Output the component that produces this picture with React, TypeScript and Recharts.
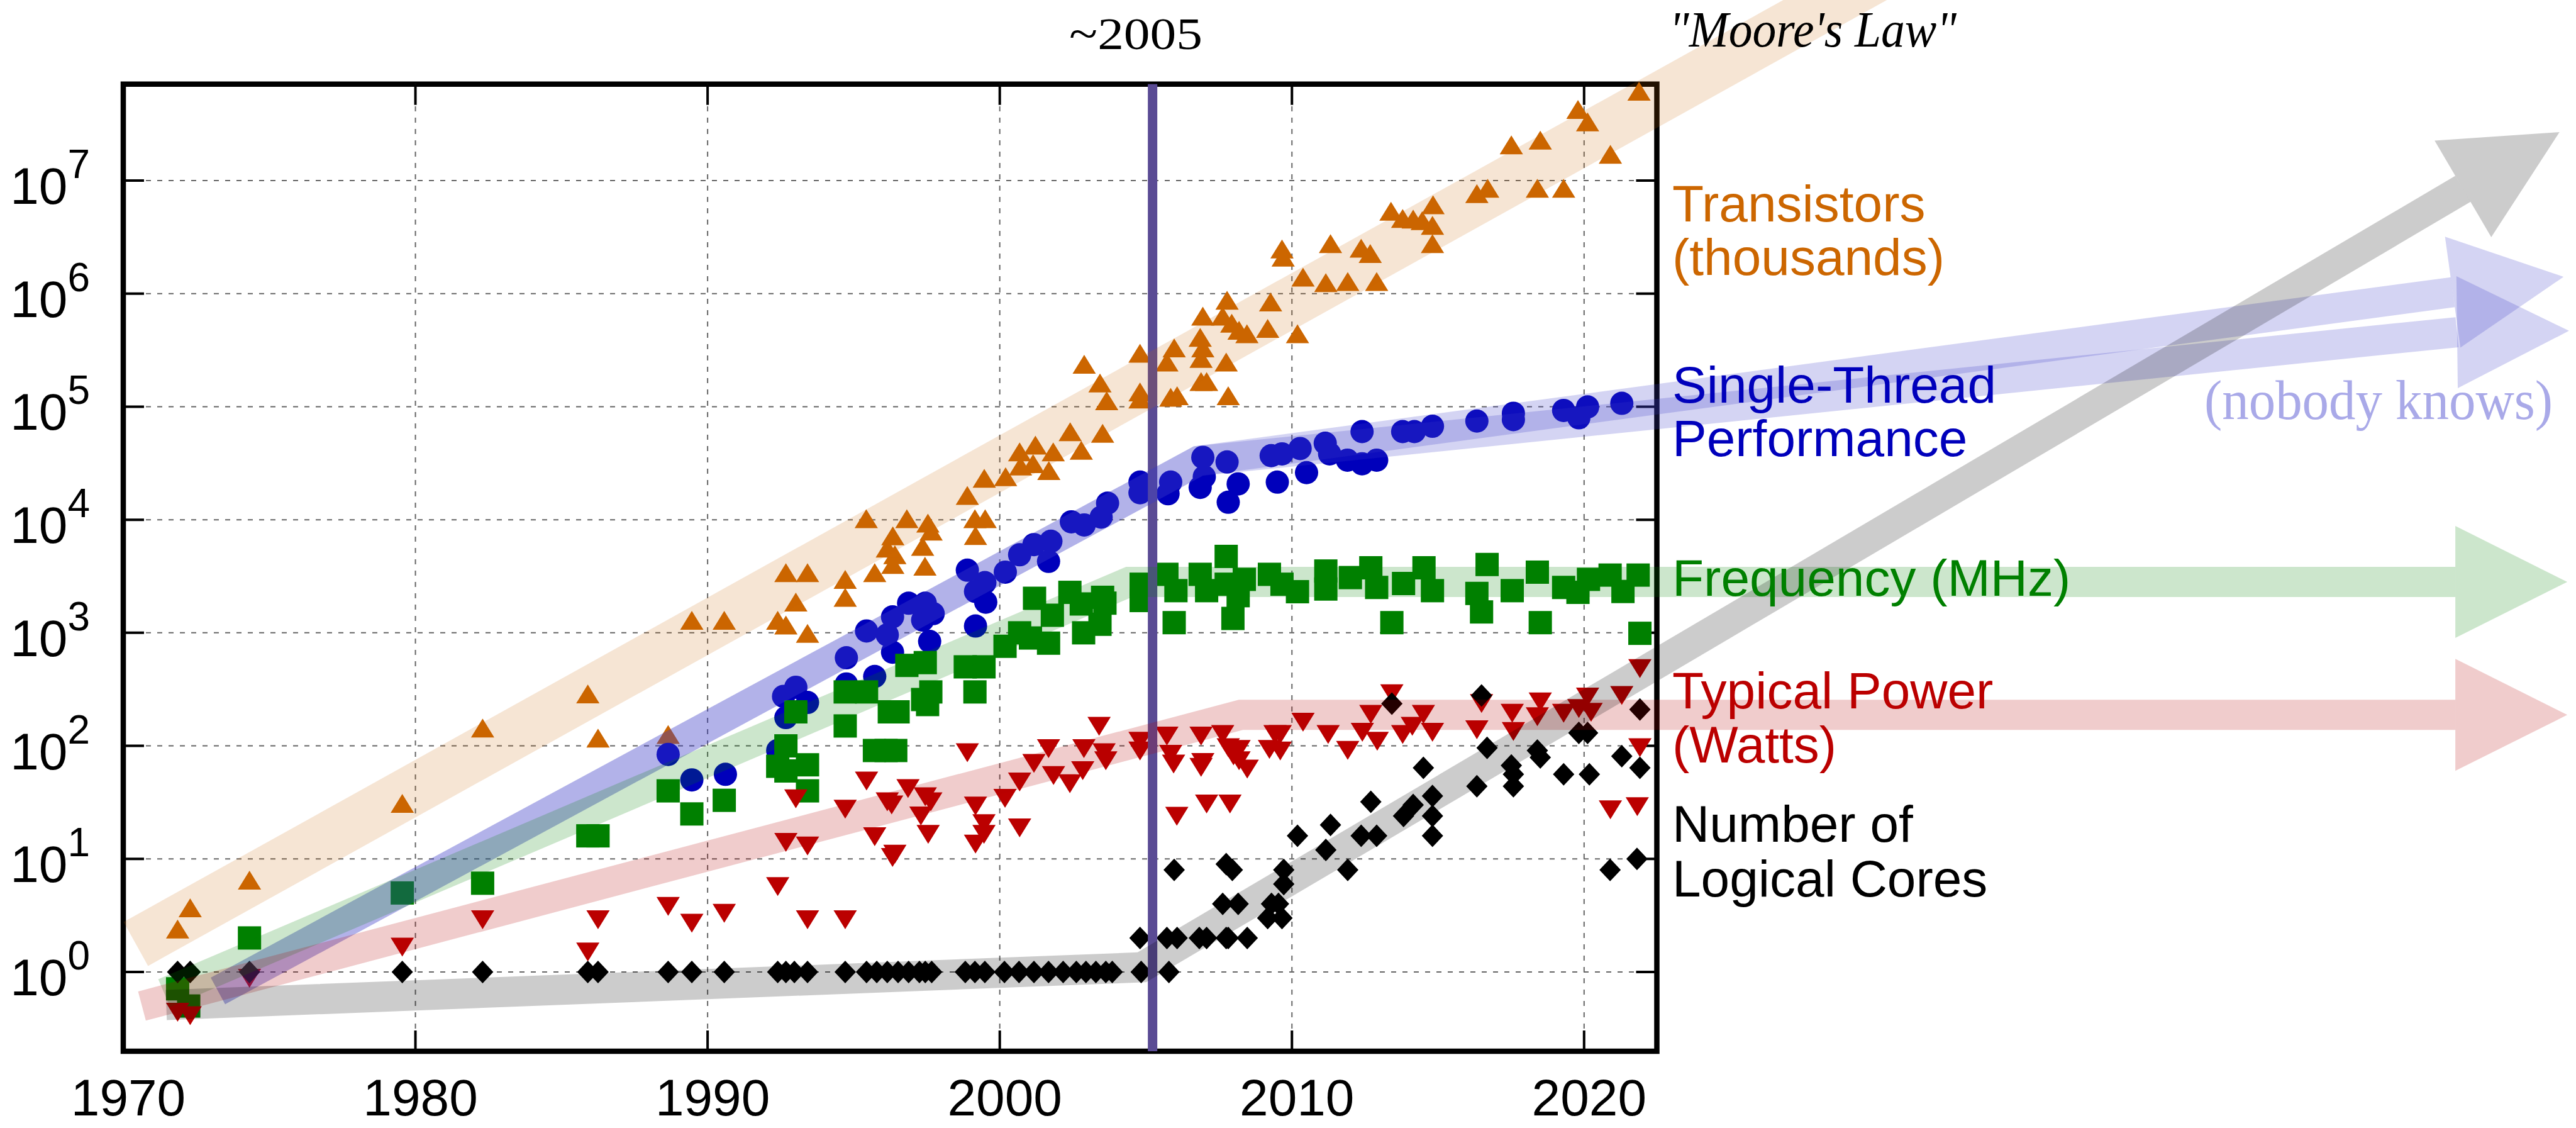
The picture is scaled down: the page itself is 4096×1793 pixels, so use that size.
import React from "react";
import { ComposedChart, XAxis, YAxis, Scatter, Line, ReferenceLine, ReferenceArea } from "recharts";

// [year, value]
const TRANSISTORS: [number, number][] = [
  [1971.86, 2.4], [1972.29, 3.7], [1974.32, 6.5], [1979.55, 31], [1982.3, 144], [1985.9, 288], [1986.25, 117],
  [1988.65, 126], [1989.46, 1290], [1990.57, 1290], [1992.4, 1290], [1992.68, 1170], [1992.68, 3400],
  [1993.42, 3400], [1993.02, 1870], [1993.42, 990], [1994.71, 2970], [1994.71, 2060], [1995.72, 3400],
  [1996.34, 4020], [1996.41, 4900], [1996.15, 5620], [1997.36, 5820], [1997.44, 3880], [1999.17, 7240],
  [1995.43, 10200], [1996.82, 10200], [1997.54, 9330], [1996.34, 7210], [1997.65, 7940], [1998.89, 16400],
  [1999.15, 10200], [1999.5, 10200], [1999.47, 23300], [2000.2, 24000], [2000.68, 39800], [2001.22, 45800],
  [2000.71, 29900], [2001.14, 31300], [2001.83, 39800], [2001.68, 27200], [2002.41, 60100], [2002.79, 41100],
  [2002.89, 237000], [2003.43, 162000], [2003.66, 113000], [2003.52, 58200],
  [2004.8, 297000], [2004.8, 135000], [2004.8, 117000], [2005.72, 248000], [2005.97, 331000], [2005.85, 121000],
  [2006.07, 125000], [2006.95, 632000], [2006.86, 411000], [2006.95, 331000], [2006.89, 267000],
  [2006.89, 167000], [2007.08, 167000], [2007.78, 875000], [2007.63, 632000], [2007.94, 548000],
  [2008.19, 474000], [2008.46, 442000], [2007.75, 248000], [2007.82, 125000], [2009.27, 843000],
  [2009.17, 492000], [2009.66, 2480000], [2009.7, 2100000], [2010.19, 442000], [2010.38, 1400000],
  [2011.16, 1250000], [2011.32, 2770000], [2011.91, 1280000], [2012.37, 2520000], [2012.68, 2260000],
  [2012.9, 1280000], [2013.39, 5360000], [2013.79, 4630000], [2014.15, 4570000], [2014.46, 4420000],
  [2014.83, 6100000], [2014.81, 4020000], [2014.81, 2770000], [2016.33, 7670000], [2016.7, 8550000],
  [2017.51, 20700000], [2018.5, 22800000], [2018.4, 8550000], [2019.3, 8550000], [2019.79, 42600000],
  [2020.12, 33000000], [2020.9, 17100000], [2021.88, 61800000],
];

const SINGLE_THREAD: [number, number][] = [
  [1988.65, 84], [1989.46, 50], [1990.61, 56], [1992.4, 91], [1992.68, 178], [1992.6, 274], [1993.02, 330],
  [1993.42, 242], [1994.75, 353], [1994.75, 601], [1995.72, 411], [1995.44, 1038], [1996.15, 959],
  [1996.33, 1384], [1996.33, 673], [1996.88, 1828], [1997.45, 1828], [1997.36, 1294], [1997.72, 1479],
  [1997.6, 839], [1998.89, 3581], [1999.49, 2780], [1999.17, 2323], [1999.52, 1866], [1999.17, 1148],
  [2000.19, 3443], [2000.68, 4898], [2001.17, 6026], [2001.67, 4285], [2001.75, 6457], [2002.45, 9594],
  [2002.89, 8995], [2003.69, 14028], [2003.47, 10544], [2004.8, 21528], [2004.8, 17338], [2005.85, 21528],
  [2005.76, 16982], [2006.95, 35645], [2007.0, 23988], [2006.86, 19320], [2007.78, 32434], [2008.16, 20749],
  [2007.82, 14289], [2009.29, 36898], [2009.66, 38282], [2010.28, 42658], [2009.5, 21528], [2010.5, 26122],
  [2011.14, 47534], [2011.29, 38282], [2011.9, 33651], [2012.4, 31261], [2012.9, 33651], [2012.4, 60256],
  [2013.79, 60256], [2014.19, 60256], [2014.81, 67143], [2016.33, 74645], [2017.58, 87498], [2017.58, 76913],
  [2019.3, 92683], [2019.82, 79799], [2020.12, 99540], [2021.29, 107152],
];

const FREQUENCY: [number, number][] = [
  [1971.86, 0.71], [1972.24, 0.5], [1974.32, 2], [1979.55, 5], [1982.3, 6.1], [1985.9, 16], [1986.25, 16],
  [1988.65, 40], [1989.46, 25], [1990.57, 33], [1992.4, 66], [1992.68, 100], [1992.68, 60], [1993.02, 200],
  [1993.42, 68], [1993.42, 40], [1994.71, 300], [1994.71, 150], [1995.44, 300], [1995.71, 91], [1996.11, 91],
  [1996.44, 91], [1996.22, 200], [1996.52, 200], [1996.82, 515], [1997.45, 545], [1997.36, 257],
  [1997.64, 300], [1997.53, 232], [1998.82, 500], [1999.46, 500], [1999.15, 300], [2000.18, 760],
  [2000.68, 1000], [2001.05, 900], [2001.67, 810], [2001.19, 2020], [2001.8, 1430], [2002.4, 2280],
  [2002.79, 1800], [2002.87, 1000], [2003.43, 1190], [2003.52, 2060], [2003.6, 1830],
  [2004.84, 2690], [2004.84, 1930], [2005.72, 3290], [2006.03, 2360], [2005.97, 1230], [2006.86, 3290],
  [2007.08, 2360], [2007.75, 4740], [2007.75, 2690], [2008.16, 2130], [2007.98, 1340], [2008.37, 2970],
  [2009.23, 3290], [2009.66, 2690], [2010.19, 2310], [2011.16, 3520], [2011.16, 2440], [2012.0, 3080],
  [2012.7, 3760], [2012.9, 2520], [2013.42, 1230], [2013.82, 2730], [2014.52, 3760], [2014.81, 2360],
  [2016.33, 2230], [2016.49, 1530], [2016.68, 4020], [2017.54, 2360], [2018.4, 3440], [2018.5, 1230],
  [2019.3, 2520], [2019.79, 2280], [2020.15, 2970], [2020.89, 3240], [2021.33, 2320], [2021.85, 3240],
  [2021.91, 990],
];

const POWER: [number, number][] = [
  [1971.86, 0.44], [1972.29, 0.41], [1974.32, 0.88], [1979.55, 1.66], [1982.3, 2.9], [1985.9, 1.5],
  [1986.25, 2.9], [1988.65, 3.8], [1989.46, 2.7], [1990.57, 3.3], [1992.4, 5.7], [1992.68, 14], [1993.42, 13],
  [1993.02, 34], [1993.42, 2.9], [1994.71, 2.9], [1994.71, 27.5], [1995.44, 48.8], [1995.72, 15.7],
  [1996.15, 32], [1996.3, 30], [1996.33, 10.3], [1996.41, 11], [1996.86, 41.9], [1997.45, 35.5], [1997.64, 32],
  [1997.3, 24], [1997.55, 16.5], [1998.89, 87], [1999.17, 29.4], [1999.46, 20.5], [1999.46, 16.5],
  [1999.17, 13.5], [2000.18, 34.3], [2000.68, 47.9], [2000.68, 18.8], [2001.17, 70], [2001.67, 94.4],
  [2001.84, 54.7], [2002.4, 46.2], [2002.88, 94.4], [2002.84, 60.4], [2003.4, 149], [2003.57, 87],
  [2003.63, 73.8], [2004.8, 110], [2004.8, 90], [2005.72, 122], [2005.85, 84.3], [2005.95, 69], [2006.06, 23.8],
  [2006.89, 122], [2006.95, 71.3], [2006.89, 64.6], [2007.08, 30.6], [2007.63, 126], [2007.82, 96.2],
  [2007.88, 30.6], [2008.0, 81.5], [2008.19, 93.1], [2008.19, 73.8], [2008.47, 62.4], [2009.23, 93.1],
  [2009.42, 126], [2009.6, 126], [2009.6, 90.2], [2010.38, 162], [2011.24, 126], [2011.91, 91.2],
  [2012.41, 132], [2012.7, 190], [2012.92, 110], [2013.42, 289], [2013.79, 126], [2014.12, 149], [2014.5, 190],
  [2014.81, 132], [2016.33, 139], [2016.49, 237], [2017.54, 194], [2017.58, 134], [2018.4, 181], [2018.5, 245],
  [2019.3, 194], [2019.82, 214], [2020.12, 270], [2020.24, 198], [2020.9, 27.2], [2021.29, 279], [2021.82, 29],
  [2021.91, 483], [2021.91, 96.2],
];

const CORES: [number, number][] = [
  [1971.86, 1], [1972.29, 1], [1974.32, 1], [1979.55, 1], [1982.3, 1], [1985.9, 1], [1986.25, 1], [1988.65, 1],
  [1989.46, 1], [1990.57, 1], [1992.4, 1], [1992.68, 1], [1992.97, 1], [1993.42, 1], [1994.71, 1], [1995.44, 1],
  [1995.79, 1], [1996.15, 1], [1996.52, 1], [1996.88, 1], [1997.25, 1], [1997.45, 1], [1997.67, 1], [1998.82, 1],
  [1999.15, 1], [1999.49, 1], [2000.16, 1], [2000.66, 1], [2001.17, 1], [2001.67, 1], [2002.17, 1], [2002.62, 1],
  [2002.95, 1], [2003.29, 1], [2003.63, 1], [2003.85, 1], [2004.84, 1], [2005.79, 1],
  [2004.8, 2], [2005.72, 2], [2006.07, 2], [2006.83, 2], [2007.08, 2], [2007.75, 2], [2007.82, 2], [2008.47, 2],
  [2007.63, 4], [2008.16, 4], [2009.3, 4], [2009.54, 4], [2009.17, 3], [2009.66, 3],
  [2005.97, 8], [2007.75, 9], [2007.96, 8], [2009.72, 8], [2009.72, 6],
  [2010.19, 16], [2011.16, 12], [2011.32, 20], [2011.91, 8], [2012.37, 16], [2012.7, 32], [2012.9, 16],
  [2013.42, 236], [2013.82, 24], [2014.15, 30], [2014.5, 64], [2014.81, 36], [2014.81, 24], [2014.81, 16],
  [2016.33, 44], [2016.49, 279], [2016.68, 96], [2017.51, 67], [2017.58, 56], [2017.58, 44], [2018.4, 91],
  [2018.5, 79], [2019.3, 56], [2019.82, 130], [2020.12, 130], [2020.18, 56], [2020.89, 8], [2021.29, 81],
  [2021.81, 10], [2021.91, 210], [2021.91, 64],
];

// trend bands (centre lines), last point = where the arrowhead sits
const TRANSISTOR_TREND: [number, number][] = [[1970.43, 1.77], [2030, 6.3e8]];
const PERF_TREND_UPPER: [number, number][] = [[1973.24, 0.68], [2006.8, 33100], [2049.73, 1.03e6]];
const PERF_TREND_LOWER: [number, number][] = [[1973.24, 0.68], [2006.8, 33100], [2049.88, 4.56e5]];
const FREQ_TREND: [number, number][] = [[1971.4, 0.65], [2004.43, 2820], [2049.82, 2820]];
const POWER_TREND: [number, number][] = [[1970.64, 0.5], [2008.25, 188], [2049.82, 188]];
const CORES_TREND: [number, number][] = [[1971.47, 0.51], [2004.86, 1.1], [2050.08, 8.45e6]];

const X_TICKS = [1970, 1980, 1990, 2000, 2010, 2020];
const Y_TICKS = [1, 10, 100, 1e3, 1e4, 1e5, 1e6, 1e7];
const BREAK_YEAR = 2005.23;

const WIDTH = 4096;
const HEIGHT = 1793;
const X_DOMAIN: [number, number] = [1970, 2053.95];
const Y_DOMAIN: [number, number] = [Math.pow(10, -0.7011), Math.pow(10, 8.5972)];
const FRAME_RIGHT = 2022.49;
const FRAME_TOP = Math.pow(10, 7.853);
const TICK_YEARS = 0.71;
const TICK_FACTOR = Math.pow(10, 0.1836);

const ORANGE = "#cc6600";
const BLUE = "#0000bb";
const GREEN = "#008000";
const RED = "#bb0000";
const SANS = "'Liberation Sans', Arial, Helvetica, sans-serif";
const SERIF = "'Liberation Serif', 'Times New Roman', serif";

const pts = (a: [number, number][]) => a.map(([x, y]) => ({ x, y }));
const last = (a: [number, number][]) => pts(a.slice(-1));

const upTri = (c: string) => (p: any) => (
  <polygon points={`${p.cx - 18.5},${p.cy + 15} ${p.cx + 18.5},${p.cy + 15} ${p.cx},${p.cy - 15}`} fill={c} />
);
const downTri = (c: string) => (p: any) => (
  <polygon points={`${p.cx - 18.5},${p.cy - 15} ${p.cx + 18.5},${p.cy - 15} ${p.cx},${p.cy + 15}`} fill={c} />
);
const dot = (c: string) => (p: any) => <circle cx={p.cx} cy={p.cy} r={18.5} fill={c} />;
const square = (c: string) => (p: any) => <rect x={p.cx - 18.5} y={p.cy - 18.5} width={37} height={37} fill={c} />;
const diamond = (c: string) => (p: any) => (
  <polygon points={`${p.cx},${p.cy - 18} ${p.cx + 17},${p.cy} ${p.cx},${p.cy + 18} ${p.cx - 17},${p.cy}`} fill={c} />
);
const arrowHead = (c: string, angle: number) => (p: any) => (
  <polygon points="0,-89 178,0 0,89" transform={`translate(${p.cx},${p.cy}) rotate(${angle})`} fill={c} />
);

function XTick(props: any) {
  const { x, payload } = props;
  return (
    <text x={x + 8} y={1773} textAnchor="middle" fontFamily={SANS} fontSize={82} fill="#000">
      {payload.value}
    </text>
  );
}

function YTick(props: any) {
  const { y, payload } = props;
  const exp = Math.round(Math.log10(payload.value));
  return (
    <text x={143} y={y + 37} textAnchor="end" fontFamily={SANS} fill="#000">
      <tspan fontSize={82}>10</tspan>
      <tspan fontSize={64} dy={-41}>{exp}</tspan>
    </text>
  );
}

const band = (data: [number, number][], color: string, w: number) => (
  <Line
    data={pts(data)}
    dataKey="y"
    type="linear"
    stroke={color}
    strokeWidth={w}
    dot={false}
    activeDot={false}
    isAnimationActive={false}
    zIndex={700}
  />
);

export default function App() {
  return (
    <div style={{ position: "absolute", left: 0, top: 0, width: WIDTH, height: HEIGHT, background: "#fff" }}>
      <ComposedChart width={WIDTH} height={HEIGHT} margin={{ top: 0, right: 0, bottom: 0, left: 0 }}>
        <XAxis
          type="number"
          dataKey="x"
          domain={X_DOMAIN}
          allowDataOverflow
          ticks={X_TICKS}
          interval={0}
          tick={(p: any) => <XTick {...p} />}
          tickLine={false}
          axisLine={false}
          height={122}
        />
        <YAxis
          type="number"
          dataKey="y"
          scale="log"
          domain={Y_DOMAIN}
          allowDataOverflow
          ticks={Y_TICKS}
          interval={0}
          tick={(p: any) => <YTick {...p} />}
          tickLine={false}
          axisLine={false}
          width={196}
        />

        <ReferenceArea
          x1={1970}
          x2={FRAME_RIGHT}
          y1={Y_DOMAIN[0]}
          y2={FRAME_TOP}
          fill="none"
          stroke="#000"
          strokeWidth={8.5}
          ifOverflow="visible"
          zIndex={10}
        />
        {Y_TICKS.map((v) => (
          <ReferenceLine key={`gy${v}`} segment={[{ x: 1970, y: v }, { x: FRAME_RIGHT, y: v }]}
            stroke="#666" strokeWidth={2} strokeDasharray="8 10" ifOverflow="visible" zIndex={20} />
        ))}
        {X_TICKS.slice(1).map((v) => (
          <ReferenceLine key={`gx${v}`} segment={[{ x: v, y: Y_DOMAIN[0] }, { x: v, y: FRAME_TOP }]}
            stroke="#666" strokeWidth={2} strokeDasharray="8 10" ifOverflow="visible" zIndex={20} />
        ))}
        {Y_TICKS.map((v) => (
          <ReferenceLine key={`tl${v}`} segment={[{ x: 1970, y: v }, { x: 1970 + TICK_YEARS, y: v }]}
            stroke="#000" strokeWidth={4} ifOverflow="visible" zIndex={30} />
        ))}
        {Y_TICKS.map((v) => (
          <ReferenceLine key={`tr${v}`} segment={[{ x: FRAME_RIGHT - TICK_YEARS, y: v }, { x: FRAME_RIGHT, y: v }]}
            stroke="#000" strokeWidth={4} ifOverflow="visible" zIndex={30} />
        ))}
        {X_TICKS.slice(1).map((v) => (
          <ReferenceLine key={`tb${v}`} segment={[{ x: v, y: Y_DOMAIN[0] }, { x: v, y: Y_DOMAIN[0] * TICK_FACTOR }]}
            stroke="#000" strokeWidth={4} ifOverflow="visible" zIndex={30} />
        ))}
        {X_TICKS.slice(1).map((v) => (
          <ReferenceLine key={`tt${v}`} segment={[{ x: v, y: FRAME_TOP / TICK_FACTOR }, { x: v, y: FRAME_TOP }]}
            stroke="#000" strokeWidth={4} ifOverflow="visible" zIndex={30} />
        ))}

        <Scatter data={pts(TRANSISTORS)} dataKey="y" shape={upTri(ORANGE)} isAnimationActive={false} zIndex={600} />
        <Scatter data={pts(SINGLE_THREAD)} dataKey="y" shape={dot(BLUE)} isAnimationActive={false} zIndex={600} />
        <Scatter data={pts(FREQUENCY)} dataKey="y" shape={square(GREEN)} isAnimationActive={false} zIndex={600} />
        <Scatter data={pts(POWER)} dataKey="y" shape={downTri(RED)} isAnimationActive={false} zIndex={600} />
        <Scatter data={pts(CORES)} dataKey="y" shape={diamond("#000")} isAnimationActive={false} zIndex={600} />

        <ReferenceLine segment={[{ x: BREAK_YEAR, y: Y_DOMAIN[0] }, { x: BREAK_YEAR, y: FRAME_TOP }]}
          stroke="#5a4b94" strokeWidth={15} ifOverflow="visible" zIndex={650} />

        {band(TRANSISTOR_TREND, "rgba(204,102,0,0.17)", 80)}
        {band(PERF_TREND_UPPER, "rgba(60,60,200,0.22)", 48)}
        {band(PERF_TREND_LOWER, "rgba(60,60,200,0.22)", 48)}
        {band(FREQ_TREND, "rgba(0,128,0,0.2)", 48)}
        {band(POWER_TREND, "rgba(180,0,0,0.2)", 48)}
        {band(CORES_TREND, "rgba(0,0,0,0.2)", 48)}

        <Scatter data={last(PERF_TREND_UPPER)} dataKey="y" shape={arrowHead("rgba(60,60,200,0.22)", -7.9)} isAnimationActive={false} zIndex={800} />
        <Scatter data={last(PERF_TREND_LOWER)} dataKey="y" shape={arrowHead("rgba(60,60,200,0.22)", -0.7)} isAnimationActive={false} zIndex={800} />
        <Scatter data={last(FREQ_TREND)} dataKey="y" shape={arrowHead("rgba(0,128,0,0.2)", 0)} isAnimationActive={false} zIndex={800} />
        <Scatter data={last(POWER_TREND)} dataKey="y" shape={arrowHead("rgba(180,0,0,0.2)", 0)} isAnimationActive={false} zIndex={800} />
        <Scatter data={last(CORES_TREND)} dataKey="y" shape={arrowHead("rgba(0,0,0,0.2)", -30.4)} isAnimationActive={false} zIndex={800} />
      </ComposedChart>

      <svg width={WIDTH} height={HEIGHT} style={{ position: "absolute", left: 0, top: 0, pointerEvents: "none" }}>
        <text x={1806} y={78} textAnchor="middle" fontFamily={SERIF} fontSize={72} textLength={212} lengthAdjust="spacingAndGlyphs">~2005</text>
        <text x={2654} y={74} fontFamily={SERIF} fontStyle="italic" fontSize={80} textLength={457} lengthAdjust="spacingAndGlyphs">"Moore's Law"</text>
        <text fontFamily={SANS} fontSize={82} fill={ORANGE}>
          <tspan x={2659} y={352}>Transistors</tspan>
          <tspan x={2659} y={437}>(thousands)</tspan>
        </text>
        <text fontFamily={SANS} fontSize={82} fill={BLUE}>
          <tspan x={2659} y={640}>Single-Thread</tspan>
          <tspan x={2659} y={725}>Performance</tspan>
        </text>
        <text x={3505} y={666} fontFamily={SERIF} fontSize={88} fill="#a9a9e8" textLength={554} lengthAdjust="spacingAndGlyphs">(nobody knows)</text>
        <text x={2659} y={947} fontFamily={SANS} fontSize={82} fill={GREEN}>Frequency (MHz)</text>
        <text fontFamily={SANS} fontSize={82} fill={RED}>
          <tspan x={2659} y={1126}>Typical Power</tspan>
          <tspan x={2659} y={1212}>(Watts)</tspan>
        </text>
        <text fontFamily={SANS} fontSize={82} fill="#000">
          <tspan x={2659} y={1338}>Number of</tspan>
          <tspan x={2659} y={1425}>Logical Cores</tspan>
        </text>
      </svg>
    </div>
  );
}
